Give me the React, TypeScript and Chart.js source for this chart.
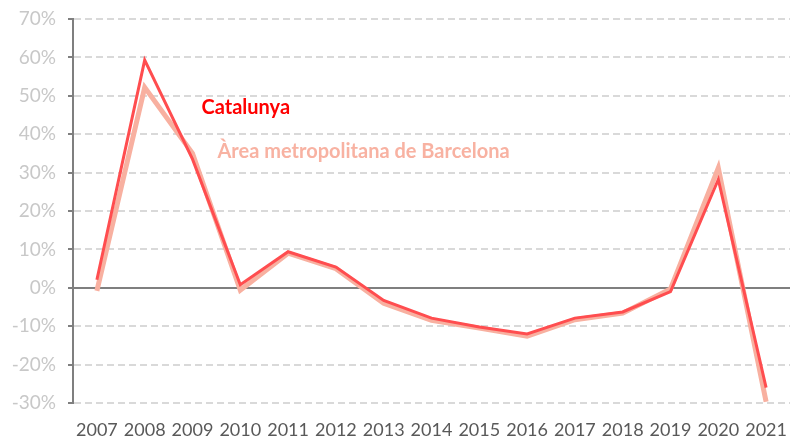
import React, { useEffect, useRef } from "react";
import { Chart, registerables } from "chart.js";

Chart.register(...registerables);

const years = ["2007","2008","2009","2010","2011","2012","2013","2014","2015","2016","2017","2018","2019","2020","2021"];
const catalunya = [2.1, 59.3, 33.5, 0.8, 9.4, 5.4, -3.3, -7.9, -10.2, -12.0, -7.9, -6.3, -1.0, 28.2, -26.0];
const areaMetro = [-0.8, 52.2, 35.0, -0.6, 9.0, 5.0, -4.0, -8.5, -10.5, -12.6, -8.3, -6.6, -0.3, 31.2, -29.7];
const seriesNames = ["Catalunya", "Àrea metropolitana de Barcelona"];
const yTicks = [-30, -20, -10, 0, 10, 20, 30, 40, 50, 60, 70];

const FONT = "Lato, 'Open Sans', sans-serif";

const labelPlugin = {
  id: "seriesLabels",
  afterDatasetsDraw(chart: any) {
    const { ctx, scales } = chart;
    const x = scales.x;
    const y = scales.y;
    ctx.save();
    ctx.font = `bold 20px ${FONT}`;
    ctx.textBaseline = "middle";
    ctx.textAlign = "left";
    ctx.fillStyle = "#FF0000";
    ctx.fillText(seriesNames[0], x.getPixelForValue(2) + 9, y.getPixelForValue(46.9));
    ctx.fillStyle = "#F8B2A2";
    ctx.fillText(seriesNames[1], x.getPixelForValue(2) + 25, y.getPixelForValue(35.4));
    ctx.restore();
  },
};

export default function App() {
  const ref = useRef<HTMLCanvasElement>(null);
  useEffect(() => {
    if (!ref.current) return;
    const chart = new Chart(ref.current, {
      type: "line",
      data: {
        labels: years,
        datasets: [
          {
            label: seriesNames[0],
            data: catalunya,
            borderColor: "#FF4D4F",
            borderWidth: 3,
            pointRadius: 0,
            tension: 0,
            borderJoinStyle: "miter",
          },
          {
            label: seriesNames[1],
            data: areaMetro,
            borderColor: "#F8B0A0",
            borderWidth: 5,
            pointRadius: 0,
            tension: 0,
            borderJoinStyle: "miter",
          },
        ],
      },
      options: {
        animation: false,
        responsive: false,
        maintainAspectRatio: false,
        layout: { padding: { top: 19, right: 0, bottom: 0, left: 0 } },
        plugins: { legend: { display: false }, tooltip: { enabled: false } },
        scales: {
          x: {
            offset: true,
            grid: { display: false, drawTicks: false },
            border: { display: false },
            ticks: { color: "#595959", font: { family: FONT, size: 18 }, padding: 16, maxRotation: 0, autoSkip: false },
            afterFit: (s: any) => { s.height = 35; s.paddingLeft = 0; s.paddingRight = 0; },
          },
          y: {
            min: -30,
            max: 70,
            afterBuildTicks: (s: any) => { s.ticks = yTicks.map((v) => ({ value: v })); },
            grid: {
              color: (c: any) => (c.tick && c.tick.value === 0 ? "#7F7F7F" : "#D9D9D9"),
              lineWidth: 2,
              tickLength: 5,
              tickWidth: 2,
              tickColor: "#7F7F7F",
            },
            border: {
              display: true,
              color: "#7F7F7F",
              width: 2,
              dash: (c: any) => (c.tick && c.tick.value === 0 ? [] : [7, 4]),
            },
            ticks: {
              color: "#C8C8C8",
              font: { family: FONT, size: 19 },
              padding: 12,
              callback: (v: any) => `${v}%`,
            },
            afterFit: (s: any) => { s.width = 73; s.paddingTop = 0; s.paddingBottom = 0; },
          },
        },
      },
      plugins: [labelPlugin],
    });
    return () => chart.destroy();
  }, []);
  return (
    <div style={{ position: "fixed", left: 0, top: 0, width: 790, height: 438, background: "#fff" }}>
      <canvas ref={ref} width={790} height={438} style={{ display: "block" }} />
    </div>
  );
}
